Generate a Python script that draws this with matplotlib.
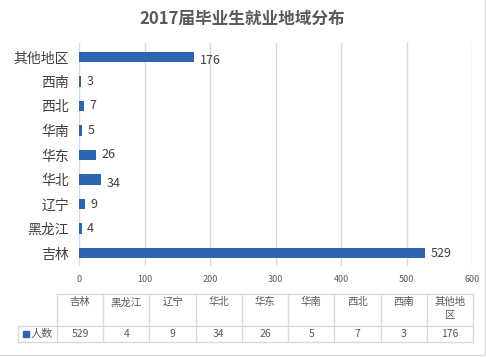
import matplotlib
matplotlib.use("Agg")
import matplotlib.pyplot as plt
from matplotlib.lines import Line2D
from matplotlib.patches import Rectangle

plt.rcParams['font.family'] = ['Noto Sans CJK SC', 'DejaVu Sans']

# ---- data ----
title = "2017届毕业生就业地域分布"
categories = ["吉林", "黑龙江", "辽宁", "华北", "华东", "华南", "西北", "西南", "其他地区"]
values = [529, 4, 9, 34, 26, 5, 7, 3, 176]
series_name = "人数"
xticks = [0, 100, 200, 300, 400, 500, 600]

BAR = "#2F64AE"
TXT = "#404040"
GRID = "#D9D9D9"

W, H = 486, 357
fig = plt.figure(figsize=(W / 100, H / 100), dpi=100)

# main plot area (pixel coords -> figure fraction)
x0, x1, y0, y1 = 79, 472, 43, 266
ax = fig.add_axes([x0 / W, 1 - y1 / H, (x1 - x0) / W, (y1 - y0) / H])
ypos = list(range(len(categories)))
ax.barh(ypos, values, height=0.42, color=BAR, zorder=3)
ax.set_xlim(xticks[0], xticks[-1])
ax.set_ylim(-0.53, len(categories) - 0.43)
ax.set_xticks(xticks)
ax.xaxis.grid(True, color=GRID, linewidth=1.0, zorder=0)
ax.set_axisbelow(True)
for s in ax.spines.values():
    s.set_visible(False)
ax.set_yticks(ypos)
ax.set_yticklabels(categories, fontsize=10, color=TXT)
ax.tick_params(axis='y', length=0, pad=7)
ax.tick_params(axis='x', length=0, labelbottom=False)

label_dy = {"华北": -0.15, "其他地区": -0.15}
for y, v, c in zip(ypos, values, categories):
    ax.annotate(str(v), (v, y + label_dy.get(c, 0)), xytext=(4, 0), textcoords='offset points',
                va='center', ha='left', fontsize=9, color=TXT, zorder=4)

# overlay axes in pixel coordinates for the title, tick labels, table and border
ov = fig.add_axes([0, 0, 1, 1], zorder=5)
ov.set_xlim(0, W)
ov.set_ylim(H, 0)
ov.axis('off')
ov.patch.set_alpha(0)

ov.text(242, 19, title, ha='center', va='center', fontsize=12, fontweight='bold', color="#595959")

# x tick labels
for t in xticks:
    px = x0 + (t - xticks[0]) / (xticks[-1] - xticks[0]) * (x1 - x0)
    ov.text(px, 279, str(t), ha='center', va='center', fontsize=6.5, color="#595959")

# data table
col_left = 57
col_right = 473
n = len(categories)
cw = (col_right - col_left) / n
top, mid, bot = 294, 326, 342
hdr_left = 18
lc = dict(color=GRID, linewidth=1.0)
ov.add_line(Line2D([col_left, col_right], [top, top], **lc))
ov.add_line(Line2D([hdr_left, col_right], [mid, mid], **lc))
ov.add_line(Line2D([hdr_left, col_right], [bot, bot], **lc))
ov.add_line(Line2D([hdr_left, hdr_left], [mid, bot], **lc))
for i in range(n + 1):
    xx = col_left + i * cw
    ov.add_line(Line2D([xx, xx], [top, bot], **lc))


def wrap(s, k=3):
    return "\n".join(s[i:i + k] for i in range(0, len(s), k))


for i, (c, v) in enumerate(zip(categories, values)):
    cx = col_left + (i + 0.5) * cw
    ov.text(cx, 297, wrap(c), ha='center', va='top', fontsize=7.5, color="#595959", linespacing=1.35)
    ov.text(cx, 334, str(v), ha='center', va='center', fontsize=7.5, color="#595959")

ov.add_patch(Rectangle((23, 331), 6, 6, color=BAR))
ov.text(31, 334, series_name, ha='left', va='center', fontsize=8, color="#595959")

# chart border (right and bottom visible)
ov.add_patch(Rectangle((-2, -2), 487, 357, fill=False, edgecolor=GRID, linewidth=1.0))

fig.savefig("out.png", dpi=100)
